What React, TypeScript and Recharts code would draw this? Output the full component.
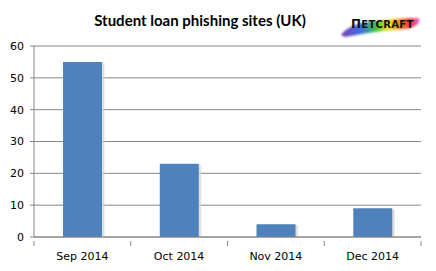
import React from "react";
import { BarChart, Bar, XAxis, YAxis, CartesianGrid, Rectangle } from "recharts";

const months = ["Sep 2014", "Oct 2014", "Nov 2014", "Dec 2014"];
const sites = [55, 23, 4, 9];
const yTicks = [0, 10, 20, 30, 40, 50, 60];

const data = months.map((m, i) => ({ month: m, sites: sites[i] }));

const W = 436;
const H = 271;
const M = { top: 46, right: 15, bottom: 0, left: 0 };
const Y_W = 34;
const X_H = 34;
const plotW = W - M.left - M.right - Y_W;
const band = plotW / months.length;
const GRID = "#868686";
const FONT = "Tahoma, 'DejaVu Sans', sans-serif";

const ShadowBar = (props: any) => {
  const { x, y, width, height } = props;
  return (
    <g>
      <rect x={x + 1.5} y={y + 1} width={width + 1} height={height - 1} fill="#d4d4d4" opacity={0.7} />
      <Rectangle x={x} y={y} width={width} height={height} fill="#4f81bd" />
    </g>
  );
};

const MonthTick = (props: any) => {
  const { x, y, payload, index } = props;
  const last = index === months.length - 1;
  return (
    <g>
      <line x1={x - band / 2} x2={x - band / 2} y1={y - 4} y2={y + 1} stroke={GRID} />
      {last && <line x1={x + band / 2} x2={x + band / 2} y1={y - 4} y2={y + 1} stroke={GRID} />}
      <text x={x} y={y + 15} textAnchor="middle" fontSize={11} fontFamily={FONT} fill="#000">
        {payload.value}
      </text>
    </g>
  );
};

const Logo = () => (
  <svg width={W} height={H} style={{ position: "absolute", left: 0, top: 0, pointerEvents: "none" }}>
    <defs>
      <linearGradient id="swash" x1="0" y1="0" x2="1" y2="0">
        <stop offset="0" stopColor="#7b3fb5" />
        <stop offset="0.25" stopColor="#3a6fe0" />
        <stop offset="0.45" stopColor="#3fc43a" />
        <stop offset="0.6" stopColor="#f2e21c" />
        <stop offset="0.75" stopColor="#f08a1c" />
        <stop offset="0.88" stopColor="#e8323c" />
        <stop offset="1" stopColor="#e96fd8" />
      </linearGradient>
      <filter id="soft" x="-10%" y="-50%" width="120%" height="200%">
        <feGaussianBlur stdDeviation="0.9" />
      </filter>
    </defs>
    <g filter="url(#soft)">
      <path d="M341 35 Q348 25 368 22 Q395 18 419 18 Q422 26 405 29 Q375 31 345 37 Z" fill="url(#swash)" />
    </g>
    <text x={351} y={28} fontSize={10} fontWeight="bold" fontFamily="'DejaVu Sans', sans-serif" fill="#111" letterSpacing={0.3}>
      <tspan fontSize={12}>Π</tspan>ETCRAFT
    </text>
  </svg>
);

export default function App() {
  return (
    <div style={{ position: "absolute", left: 0, top: 0, width: W, height: H, background: "#fff" }}>
      <div
        style={{
          position: "absolute",
          left: 0,
          top: 11,
          width: 400,
          textAlign: "center",
          fontFamily: "Lato, 'Open Sans', sans-serif",
          fontWeight: "bold",
          fontSize: 15,
          color: "#000",
        }}
      >
        Student loan phishing sites (UK)
      </div>
      <BarChart width={W} height={H} data={data} margin={M} barCategoryGap="30%">
        <CartesianGrid vertical={false} stroke={GRID} />
        <YAxis
          width={Y_W}
          domain={[0, 60]}
          ticks={yTicks}
          interval={0}
          stroke={GRID}
          tickSize={4}
          tick={{ fontSize: 11, fontFamily: FONT, fill: "#000" }}
          tickMargin={6}
        />
        <XAxis
          dataKey="month"
          height={X_H}
          stroke={GRID}
          tickLine={false}
          interval={0}
          tick={<MonthTick />}
        />
        <Bar dataKey="sites" isAnimationActive={false} shape={<ShadowBar />} />
      </BarChart>
      <Logo />
    </div>
  );
}
